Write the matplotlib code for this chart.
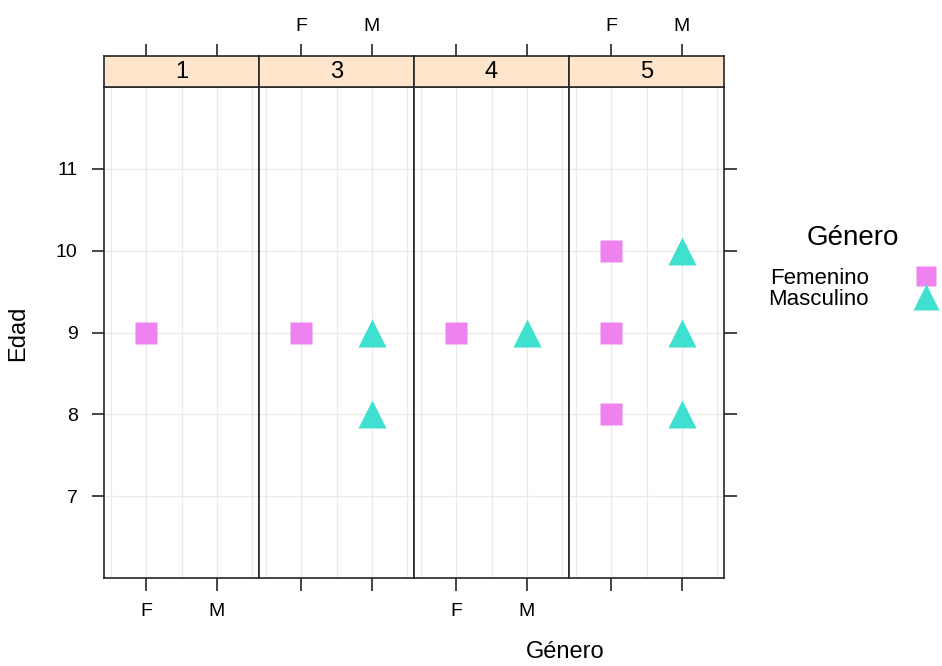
import matplotlib
matplotlib.use("Agg")
import matplotlib.pyplot as plt
from matplotlib.lines import Line2D

plt.rcParams['font.family'] = ['Liberation Sans', 'DejaVu Sans']

# datos por panel
paneles = ['1', '3', '4', '5']
generos = ['F', 'M']
fem_edades = {'1': [9], '3': [9], '4': [9], '5': [10, 9, 8]}
mas_edades = {'1': [], '3': [9, 8], '4': [9], '5': [10, 9, 8]}
y_ticks = [7, 8, 9, 10, 11]

col_fem = '#EE82EE'
col_mas = '#40E0D0'
col_strip = '#FFE5CC'
col_borde = '#262626'

W, H = 942, 666
fig = plt.figure(figsize=(W / 100, H / 100), dpi=100)

x0, x1 = 104, 724
y_top, y_bot = 87, 578
strip_top = 56
pw = (x1 - x0) / len(paneles)


def fx(px):
    return px / W


def fy(py):
    return 1 - py / H


for i, p in enumerate(paneles):
    left = x0 + i * pw
    ax = fig.add_axes([fx(left), fy(y_bot), pw / W, (y_bot - y_top) / H])
    st = fig.add_axes([fx(left), fy(y_top), pw / W, (y_top - strip_top) / H], sharex=ax)

    ax.set_xlim(0.4, 2.6)
    ax.set_ylim(6, 12)
    for gx in [0.5, 1, 1.5, 2, 2.5]:
        ax.axvline(gx, color='#EBEBEB', lw=1, zorder=0)
    for gy in y_ticks:
        ax.axhline(gy, color='#EBEBEB', lw=1, zorder=0)

    fe = fem_edades[p]
    ma = mas_edades[p]
    ax.plot([1] * len(fe), fe, 's', color=col_fem, ms=16, mec='none', zorder=3)
    ax.plot([2] * len(ma), ma, '^', color=col_mas, ms=20, mec='none', zorder=3)

    for a in (ax, st):
        for s in a.spines.values():
            s.set_color(col_borde)
            s.set_linewidth(1.2)

    ax.set_xticks([1, 2])
    ax.set_xticklabels(generos)
    ax.set_yticks(y_ticks)
    ax.tick_params(direction='out', length=9, width=1.2, color=col_borde, labelsize=14)
    ax.tick_params(axis='x', pad=9, labelbottom=(i % 2 == 0))
    ax.tick_params(axis='y', pad=10)

    if i == 0:
        ax.tick_params(axis='y', left=True, labelleft=True, right=False)
    elif i == len(paneles) - 1:
        ax.tick_params(axis='y', left=False, labelleft=False, right=True, labelright=False)
    else:
        ax.tick_params(axis='y', left=False, labelleft=False)

    st.set_facecolor(col_strip)
    st.set_yticks([])
    st.tick_params(axis='x', bottom=False, labelbottom=False, top=True, labeltop=(i % 2 == 1),
                   direction='out', length=9, width=1.2, color=col_borde, labelsize=14, pad=6)
    st.text(0.5, 0.48, p, transform=st.transAxes, ha='center', va='center', fontsize=17)

fig.text(fx(565), fy(652), 'Género', ha='center', va='center', fontsize=17)
fig.text(fx(18), fy(333), 'Edad', ha='center', va='center', rotation=90, fontsize=17)

# leyenda
fig.text(fx(853), fy(238), 'Género', ha='center', va='center', fontsize=20)
handles = [Line2D([], [], marker='s', ls='none', color=col_fem, ms=15, mec='none'),
           Line2D([], [], marker='^', ls='none', color=col_mas, ms=19, mec='none')]
fig.legend(handles, ['Femenino', 'Masculino'], loc='upper left',
           bbox_to_anchor=(fx(768), fy(268)), frameon=False, markerfirst=False,
           fontsize=16, handletextpad=2.1, labelspacing=0.0, borderpad=0,
           handlelength=1.0, borderaxespad=0)

fig.savefig('out.png', dpi=100)
